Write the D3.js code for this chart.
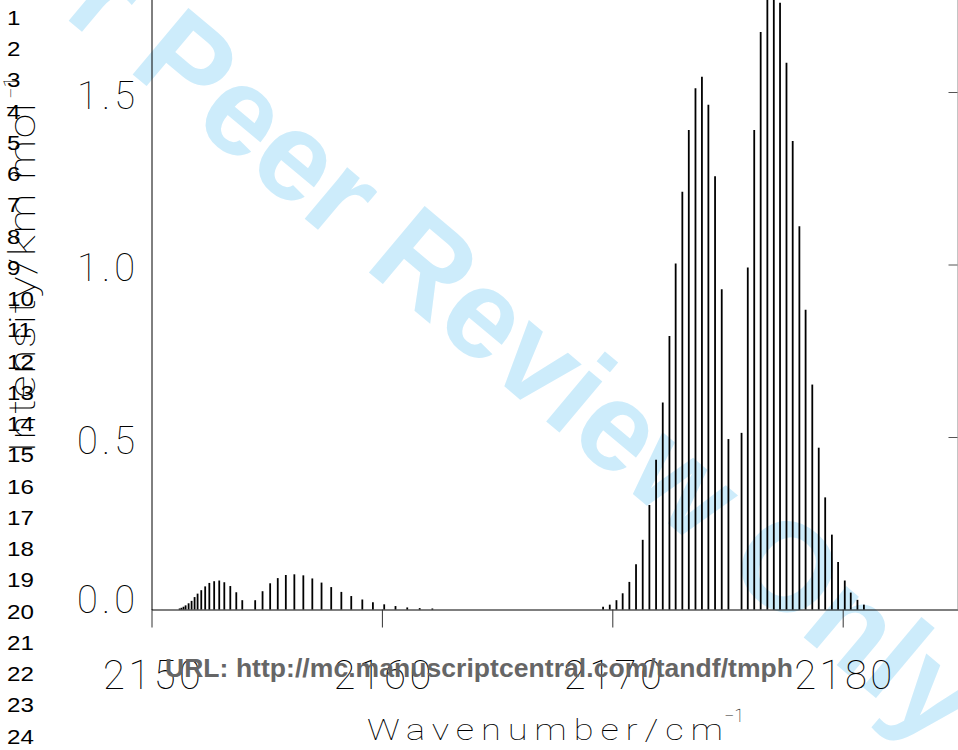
<!DOCTYPE html>
<html>
<head>
<meta charset="utf-8">
<script src="https://cdn.jsdelivr.net/npm/d3@7"></script>
<style>
html, body { margin: 0; padding: 0; background: #fff; overflow: hidden; }
svg { display: block; }
.thin { font-family: "Roboto", "Lato", sans-serif; font-weight: 100; fill: #000; }
</style>
</head>
<body>
<svg id="chart" width="958" height="750"></svg>
<script>
// weak band, left part of the spectrum
var weakWn = [2151.22, 2151.30, 2151.39, 2151.48, 2151.61, 2151.74, 2151.87, 2152.00, 2152.16, 2152.33,
  2152.51, 2152.72, 2152.94, 2153.16, 2153.42, 2153.68, 2153.94,
  2154.50, 2154.82, 2155.15, 2155.48, 2155.83, 2156.20, 2156.59, 2156.98, 2157.38, 2157.80,
  2158.24, 2158.67, 2159.15, 2159.61, 2160.10, 2160.59, 2161.10, 2161.64, 2162.19];
var weakInt = [0.003, 0.005, 0.008, 0.012, 0.018, 0.025, 0.036, 0.046, 0.056, 0.067,
  0.077, 0.082, 0.084, 0.079, 0.068, 0.050, 0.027,
  0.027, 0.053, 0.076, 0.091, 0.100, 0.102, 0.099, 0.090, 0.078, 0.065,
  0.051, 0.039, 0.029, 0.021, 0.015, 0.010, 0.006, 0.004, 0.003];

// strong band, right part of the spectrum
var strongWn = [2169.60, 2169.89, 2170.18, 2170.45, 2170.74, 2171.03, 2171.32, 2171.61, 2171.90, 2172.19,
  2172.48, 2172.75, 2173.04, 2173.32, 2173.61, 2173.89, 2174.17, 2174.46, 2174.75, 2175.04,
  2175.61, 2175.88, 2176.16, 2176.44, 2176.73, 2177.01, 2177.28, 2177.56, 2177.83, 2178.12,
  2178.39, 2178.68, 2178.96, 2179.24, 2179.53, 2179.80, 2180.09, 2180.35, 2180.64, 2180.92];
var strongInt = [0.008, 0.014, 0.027, 0.047, 0.080, 0.131, 0.202, 0.303, 0.434, 0.600,
  0.793, 1.003, 1.211, 1.390, 1.511, 1.544, 1.463, 1.256, 0.928, 0.494,
  0.512, 0.991, 1.390, 1.674, 1.790, 1.800, 1.759, 1.585, 1.358, 1.111,
  0.869, 0.652, 0.469, 0.325, 0.217, 0.138, 0.084, 0.049, 0.028, 0.014];

var xTicks = [2150, 2160, 2170, 2180];
var yTicks = [0, 0.5, 1.0, 1.5];
var lineNumbers = [1, 2, 3, 4, 5, 6, 7, 8, 9, 10, 11, 12, 13, 14, 15, 16, 17, 18, 19, 20, 21, 22, 23, 24];

var svg = d3.select("#chart");

// watermark behind everything
svg.append("text")
  .attr("transform", "translate(-56,-84) rotate(40)")
  .attr("font-family", "Liberation Sans, Arial, sans-serif")
  .attr("font-weight", "bold")
  .attr("font-size", 126)
  .attr("fill", "#cdecfb")
  .text("For Peer Review Only");

var x = d3.scaleLinear().domain([2150, 2185]).range([151.5, 957.9]);
var y = d3.scaleLinear().domain([0, 1.8]).range([609.5, -11.5]);

var bars = [];
weakWn.forEach(function (w, i) { bars.push({ wn: w, v: weakInt[i] }); });
strongWn.forEach(function (w, i) { bars.push({ wn: w, v: strongInt[i] }); });

svg.append("g")
  .selectAll("line")
  .data(bars)
  .enter().append("line")
  .attr("x1", function (d) { return x(d.wn); })
  .attr("x2", function (d) { return x(d.wn); })
  .attr("y1", y(0))
  .attr("y2", function (d) { return y(d.v); })
  .attr("stroke", "#000")
  .attr("stroke-width", 1.8);

// bottom axis
var gx = svg.append("g")
  .attr("transform", "translate(0," + y(0) + ")")
  .call(d3.axisBottom(x).tickValues(xTicks).tickSize(18).tickSizeOuter(0).tickFormat(d3.format("d")));
gx.select(".domain").attr("stroke", "#000").attr("stroke-width", 1.2);
gx.selectAll(".tick line").attr("stroke", "#333");
gx.selectAll(".tick text")
  .attr("class", "thin")
  .attr("font-size", 40)
  .attr("y", 689 - 609.5)
  .attr("dy", null)
  .attr("textLength", 98)
  .attr("lengthAdjust", "spacing");

// left axis (frame line + labels)
var gy = svg.append("g")
  .attr("transform", "translate(" + x(2150) + ",0)")
  .call(d3.axisLeft(y).tickValues(yTicks).tickSize(0).tickSizeOuter(0).tickPadding(16.5).tickFormat(d3.format(".1f")));
gy.select(".domain").attr("stroke", "#000").attr("stroke-width", 1);
gy.selectAll(".tick text")
  .attr("class", "thin")
  .attr("font-size", 38)
  .attr("dy", null)
  .attr("y", function (d) { return d === 0 ? 2.5 : 16; })
  .attr("textLength", 58)
  .attr("lengthAdjust", "spacing");

// right frame with inward ticks
var gr = svg.append("g")
  .attr("transform", "translate(957.5,0)")
  .call(d3.axisLeft(y).tickValues([0.5, 1.0, 1.5]).tickSize(9).tickSizeOuter(0).tickFormat(""));
gr.select(".domain").attr("stroke", "#888");
gr.selectAll(".tick line").attr("stroke", "#555");

// axis titles (glyphs widened to match the plotter font)
svg.append("text").attr("class", "thin")
  .attr("transform", "translate(367,740) scale(1.25,1)")
  .attr("font-size", 29)
  .attr("textLength", 356 / 1.25)
  .attr("lengthAdjust", "spacing")
  .text("Wavenumber/cm");
svg.append("text").attr("class", "thin")
  .attr("x", 724).attr("y", 722)
  .attr("font-size", 18)
  .text("\u22121");

svg.append("text").attr("class", "thin")
  .attr("transform", "translate(35,453) rotate(-90) scale(1.2,1)")
  .attr("font-size", 37)
  .attr("textLength", 350 / 1.2)
  .attr("lengthAdjust", "spacing")
  .text("Intensity/km mol");
svg.append("text").attr("class", "thin")
  .attr("transform", "translate(35,453) rotate(-90)")
  .attr("x", 354).attr("y", -17)
  .attr("font-size", 20)
  .text("\u22121");

// manuscript overlay
svg.append("text")
  .attr("x", 165).attr("y", 677)
  .attr("font-family", "Liberation Sans, Arial, sans-serif")
  .attr("font-weight", "bold")
  .attr("font-size", 26.5)
  .attr("fill", "#666")
  .attr("textLength", 628)
  .text("URL: http://mc.manuscriptcentral.com/tandf/tmph");

svg.append("g")
  .attr("transform", "scale(1.15,1)")
  .selectAll("text")
  .data(lineNumbers)
  .enter().append("text")
  .attr("x", 7 / 1.15)
  .attr("y", function (d) { return 25 + (d - 1) * 31.25; })
  .attr("font-family", "Liberation Sans, Arial, sans-serif")
  .attr("font-size", 21)
  .attr("fill", "#000")
  .text(function (d) { return d; });
</script>
</body>
</html>
